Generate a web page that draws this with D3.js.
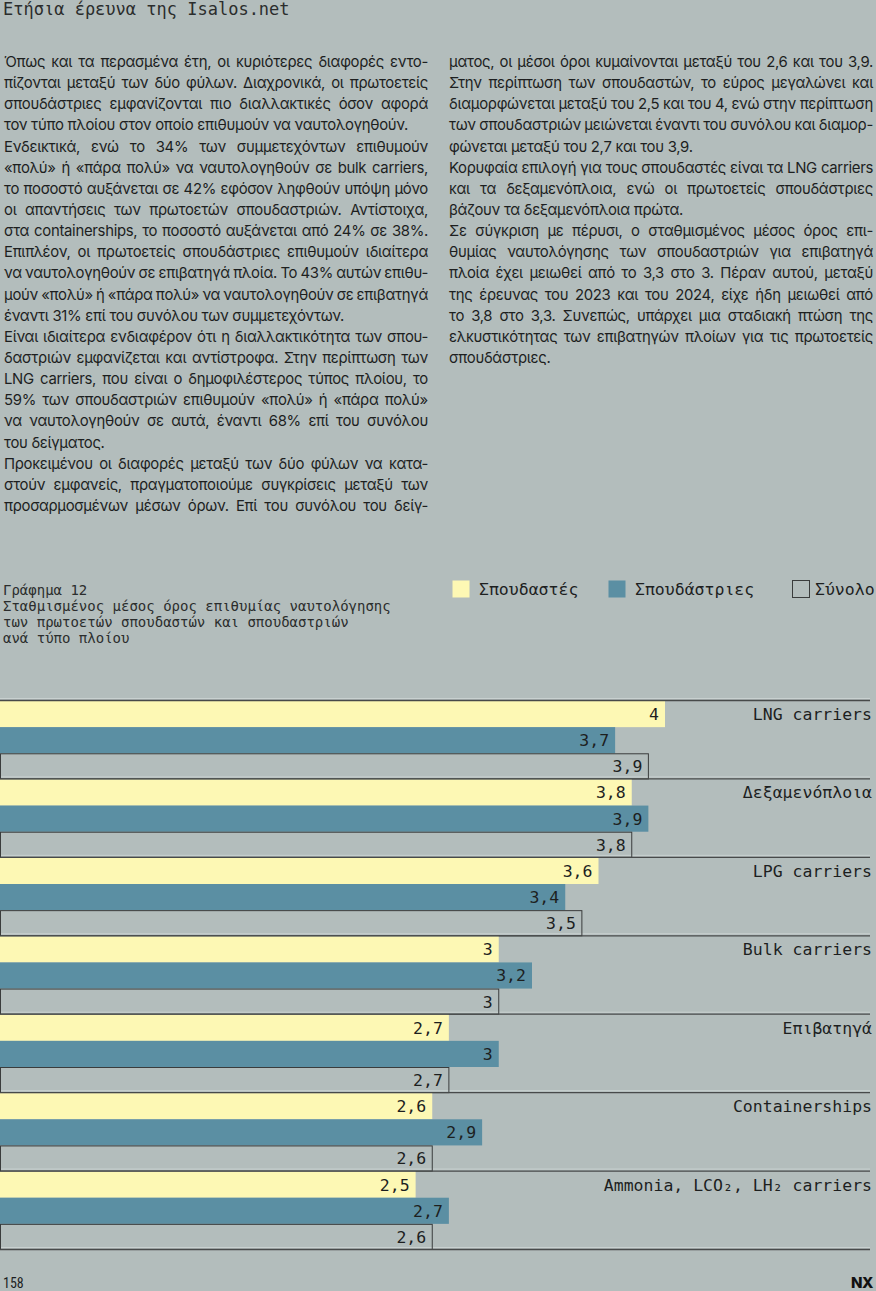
<!DOCTYPE html>
<html>
<head>
<meta charset="utf-8">
<script src="https://cdn.jsdelivr.net/npm/d3@7"></script>
<style>
  html, body { margin: 0; padding: 0; background: #b3bdbc; }
  svg { display: block; }
</style>
</head>
<body>
<div id="page"></div>
<script>
// chart values
var categories = ["LNG carriers", "Δεξαμενόπλοια", "LPG carriers", "Bulk carriers",
                  "Επιβατηγά", "Containerships", "Ammonia, LCO₂, LH₂ carriers"];
var maleStudents = [4, 3.8, 3.6, 3, 2.7, 2.6, 2.5];
var femaleStudents = [3.7, 3.9, 3.4, 3.2, 3, 2.9, 2.7];
var totalValues = [3.9, 3.8, 3.5, 3, 2.7, 2.6, 2.6];
var seriesNames = ["Σπουδαστές", "Σπουδάστριες", "Σύνολο"];

var headerText = "Ετήσια έρευνα της Isalos.net";
var chartTitle = ["Γράφημα 12",
                  "Σταθμισμένος μέσος όρος επιθυμίας ναυτολόγησης",
                  "των πρωτοετών σπουδαστών και σπουδαστριών",
                  "ανά τύπο πλοίου"];

// body text, one entry per printed line; "end" lines are not justified
var leftColumn = [
  "Όπως και τα περασμένα έτη, οι κυριότερες διαφορές εντο-",
  "πίζονται μεταξύ των δύο φύλων. Διαχρονικά, οι πρωτοετείς",
  "σπουδάστριες εμφανίζονται πιο διαλλακτικές όσον αφορά",
  "end:τον τύπο πλοίου στον οποίο επιθυμούν να ναυτολογηθούν.",
  "Ενδεικτικά, ενώ το 34% των συμμετεχόντων επιθυμούν",
  "«πολύ» ή «πάρα πολύ» να ναυτολογηθούν σε bulk carriers,",
  "το ποσοστό αυξάνεται σε 42% εφόσον ληφθούν υπόψη μόνο",
  "οι απαντήσεις των πρωτοετών σπουδαστριών. Αντίστοιχα,",
  "στα containerships, το ποσοστό αυξάνεται από 24% σε 38%.",
  "Επιπλέον, οι πρωτοετείς σπουδάστριες επιθυμούν ιδιαίτερα",
  "να ναυτολογηθούν σε επιβατηγά πλοία. Το 43% αυτών επιθυ-",
  "μούν «πολύ» ή «πάρα πολύ» να ναυτολογηθούν σε επιβατηγά",
  "end:έναντι 31% επί του συνόλου των συμμετεχόντων.",
  "Είναι ιδιαίτερα ενδιαφέρον ότι η διαλλακτικότητα των σπου-",
  "δαστριών εμφανίζεται και αντίστροφα. Στην περίπτωση των",
  "LNG carriers, που είναι ο δημοφιλέστερος τύπος πλοίου, το",
  "59% των σπουδαστριών επιθυμούν «πολύ» ή «πάρα πολύ»",
  "να ναυτολογηθούν σε αυτά, έναντι 68% επί του συνόλου",
  "end:του δείγματος.",
  "Προκειμένου οι διαφορές μεταξύ των δύο φύλων να κατα-",
  "στούν εμφανείς, πραγματοποιούμε συγκρίσεις μεταξύ των",
  "προσαρμοσμένων μέσων όρων. Επί του συνόλου του δείγ-"
];
var rightColumn = [
  "ματος, οι μέσοι όροι κυμαίνονται μεταξύ του 2,6 και του 3,9.",
  "Στην περίπτωση των σπουδαστών, το εύρος μεγαλώνει και",
  "διαμορφώνεται μεταξύ του 2,5 και του 4, ενώ στην περίπτωση",
  "των σπουδαστριών μειώνεται έναντι του συνόλου και διαμορ-",
  "end:φώνεται μεταξύ του 2,7 και του 3,9.",
  "Κορυφαία επιλογή για τους σπουδαστές είναι τα LNG carriers",
  "και τα δεξαμενόπλοια, ενώ οι πρωτοετείς σπουδάστριες",
  "end:βάζουν τα δεξαμενόπλοια πρώτα.",
  "Σε σύγκριση με πέρυσι, ο σταθμισμένος μέσος όρος επι-",
  "θυμίας ναυτολόγησης των σπουδαστριών για επιβατηγά",
  "πλοία έχει μειωθεί από το 3,3 στο 3. Πέραν αυτού, μεταξύ",
  "της έρευνας του 2023 και του 2024, είχε ήδη μειωθεί από",
  "το 3,8 στο 3,3. Συνεπώς, υπάρχει μια σταδιακή πτώση της",
  "ελκυστικότητας των επιβατηγών πλοίων για τις πρωτοετείς",
  "end:σπουδάστριες."
];

var Page = (function() {
  var width = 876, height = 1291;
  var mono = "'DejaVu Sans Mono', monospace";
  var sans = "Inter, 'Noto Sans', sans-serif";
  var ink = "#1d1f1f";
  var colors = ["#fdf8b4", "#5b8fa3", "none"];

  var svg;

  function init() {
    svg = d3.select("#page").append("svg")
      .attr("width", width)
      .attr("height", height);

    svg.append("rect").attr("width", width).attr("height", height).attr("fill", "#b3bdbc");

    // running header
    svg.append("text")
      .attr("x", 3).attr("y", 15)
      .attr("font-family", mono).attr("font-size", 17)
      .attr("fill", "#2b2d2d")
      .text(headerText);

    drawColumn(leftColumn, 4, 428, 67);
    drawColumn(rightColumn, 449, 873, 67);
    drawTitle();
    drawLegend();
    drawBars();
    drawFooter();
  }

  // justified column: spread the spaces so each line fills the measure
  function drawColumn(lines, x0, x1, y0) {
    var lineHeight = 21.14;
    var g = svg.append("g")
      .attr("font-family", sans).attr("font-size", 14.9)
      .attr("letter-spacing", -0.3).attr("fill", ink);

    lines.forEach(function(raw, i) {
      var isEnd = raw.indexOf("end:") === 0;
      var str = isEnd ? raw.slice(4) : raw;
      var t = g.append("text").attr("x", x0).attr("y", y0 + i * lineHeight).text(str);
      if (!isEnd) {
        var natural = t.node().getComputedTextLength();
        var spaces = (str.match(/ /g) || []).length;
        if (spaces > 0) t.attr("word-spacing", (x1 - x0 - natural) / spaces);
      }
    });
  }

  function drawTitle() {
    svg.append("g")
      .attr("font-family", mono).attr("font-size", 14).attr("fill", "#2b2d2d")
      .selectAll("text")
      .data(chartTitle)
      .enter().append("text")
      .attr("x", 3)
      .attr("y", function(d, i) { return 595 + i * 16; })
      .text(function(d) { return d; });
  }

  function drawLegend() {
    var xs = [452, 608, 792];
    var item = svg.append("g").selectAll("g")
      .data(seriesNames)
      .enter().append("g")
      .attr("transform", function(d, i) { return "translate(" + xs[i] + ",580)"; });

    item.append("rect")
      .attr("x", 0.5).attr("y", 0.5)
      .attr("width", 17).attr("height", 17)
      .attr("fill", function(d, i) { return colors[i]; })
      .attr("stroke", function(d, i) { return i === 2 ? "#3a3c3c" : "none"; })
      .attr("stroke-width", 1);

    item.append("text")
      .attr("x", function(d, i) { return i === 2 ? 23 : 27; })
      .attr("y", 15)
      .attr("font-family", mono).attr("font-size", 16.5).attr("fill", ink)
      .text(function(d) { return d; });
  }

  function drawBars() {
    var top = 701, bottom = 1250, right = 870;
    var fmt = d3.formatLocale({ decimal: ",", thousands: ".", grouping: [3], currency: ["", "€"] })
      .format("~g");

    var x = d3.scaleLinear().domain([0, 4]).range([0, 665]);
    var y0 = d3.scaleBand().domain(categories).range([top, bottom]).padding(0);
    var y1 = d3.scaleBand().domain(seriesNames).range([0, y0.bandwidth()]).padding(0);

    var rows = categories.map(function(c, i) {
      return { name: c, values: [maleStudents[i], femaleStudents[i], totalValues[i]] };
    });

    // group separators (light highlight + dark rule)
    var seps = categories.map(function(c) { return y0(c); }).concat([bottom]);
    svg.append("g").selectAll("line.hi")
      .data(seps).enter().append("line")
      .attr("x1", 0).attr("x2", right)
      .attr("y1", function(d) { return d - 2.5; }).attr("y2", function(d) { return d - 2.5; })
      .attr("stroke", "#c9d1d0").attr("stroke-width", 1);

    var group = svg.append("g").selectAll("g")
      .data(rows)
      .enter().append("g")
      .attr("transform", function(d) { return "translate(0," + y0(d.name) + ")"; });

    var bar = group.selectAll("g")
      .data(function(d) {
        return d.values.map(function(v, i) { return { series: seriesNames[i], i: i, value: v }; });
      })
      .enter().append("g");

    bar.append("rect")
      .attr("x", function(d) { return d.i === 2 ? 0.5 : 0; })
      .attr("y", function(d) { return y1(d.series) + (d.i === 2 ? 0.5 : 0); })
      .attr("width", function(d) { return x(d.value) - (d.i === 2 ? 0.5 : 0); })
      .attr("height", function(d) { return y1.bandwidth() - (d.i === 2 ? 1 : 0); })
      .attr("fill", function(d) { return colors[d.i]; })
      .attr("stroke", function(d) { return d.i === 2 ? "#3a3c3c" : "none"; })
      .attr("stroke-width", 1);

    bar.append("text")
      .attr("x", function(d) { return x(d.value) - 6; })
      .attr("y", function(d) { return y1(d.series) + y1.bandwidth() / 2 + 6; })
      .attr("text-anchor", "end")
      .attr("font-family", mono).attr("font-size", 16.5).attr("fill", ink)
      .text(function(d) { return fmt(d.value); });

    group.append("text")
      .attr("x", 872)
      .attr("y", y1.bandwidth() / 2 + 6)
      .attr("text-anchor", "end")
      .attr("font-family", mono).attr("font-size", 16.5).attr("fill", ink)
      .text(function(d) { return d.name; });

    svg.append("g").selectAll("line.rule")
      .data(seps).enter().append("line")
      .attr("x1", 0).attr("x2", right)
      .attr("y1", function(d) { return d - 0.5; }).attr("y2", function(d) { return d - 0.5; })
      .attr("stroke", "#474a4a").attr("stroke-width", 1.3);
  }

  function drawFooter() {
    svg.append("text")
      .attr("x", 3).attr("y", 1288)
      .attr("font-family", "'Roboto Condensed', Roboto, sans-serif").attr("font-size", 14)
      .attr("fill", ink)
      .text("158");

    svg.append("text")
      .attr("x", 873).attr("y", 1288)
      .attr("text-anchor", "end")
      .attr("font-family", "Inter, sans-serif").attr("font-size", 15).attr("font-weight", 800)
      .attr("letter-spacing", -0.5)
      .attr("fill", "#111")
      .text("NX");
  }

  return { init: init };
})();

document.fonts.ready.then(function() { Page.init(); });
</script>
</body>
</html>
